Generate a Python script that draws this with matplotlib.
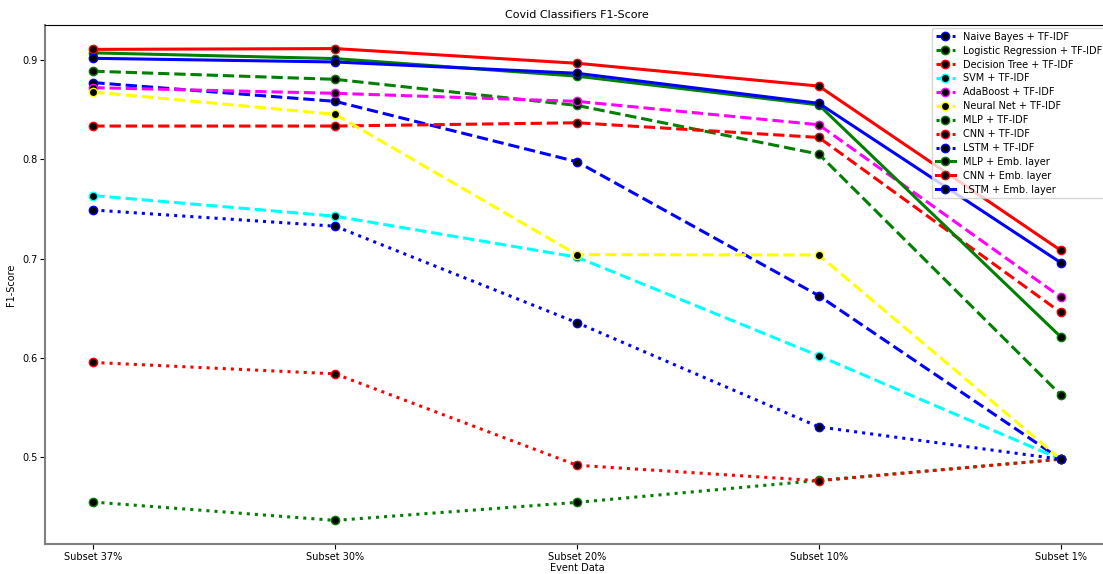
import matplotlib
matplotlib.use('Agg')
import matplotlib.pyplot as plt

subsets = ['Subset 37%', 'Subset 30%', 'Subset 20%', 'Subset 10%', 'Subset 1%']

nb_tfidf = [0.8775, 0.8586, 0.7977, 0.6626, 0.4977]
lr_tfidf = [0.889, 0.8808, 0.8545, 0.8054, 0.5626]
dt_tfidf = [0.8337, 0.8337, 0.837, 0.8222, 0.6458]
svm_tfidf = [0.7636, 0.7428, 0.7015, 0.602, 0.4977]
ada_tfidf = [0.8724, 0.8667, 0.8586, 0.835, 0.6613]
nn_tfidf = [0.868, 0.8455, 0.704, 0.7037, 0.4977]
mlp_tfidf = [0.4545, 0.436, 0.4542, 0.4763, 0.4977]
cnn_tfidf = [0.5953, 0.5838, 0.4916, 0.476, 0.4977]
lstm_tfidf = [0.749, 0.7327, 0.6354, 0.5303, 0.4977]
mlp_emb = [0.9075, 0.9017, 0.884, 0.855, 0.6212]
cnn_emb = [0.911, 0.9118, 0.897, 0.874, 0.7084]
lstm_emb = [0.902, 0.8983, 0.8869, 0.8566, 0.696]

series = [
    ('Naive Bayes + TF-IDF', nb_tfidf, 'blue', '--'),
    ('Logistic Regression + TF-IDF', lr_tfidf, 'green', '--'),
    ('Decision Tree + TF-IDF', dt_tfidf, 'red', '--'),
    ('SVM + TF-IDF', svm_tfidf, 'cyan', '--'),
    ('AdaBoost + TF-IDF', ada_tfidf, 'magenta', '--'),
    ('Neural Net + TF-IDF', nn_tfidf, 'yellow', '--'),
    ('MLP + TF-IDF', mlp_tfidf, 'green', ':'),
    ('CNN + TF-IDF', cnn_tfidf, 'red', ':'),
    ('LSTM + TF-IDF', lstm_tfidf, 'blue', ':'),
    ('MLP + Emb. layer', mlp_emb, 'green', '-'),
    ('CNN + Emb. layer', cnn_emb, 'red', '-'),
    ('LSTM + Emb. layer', lstm_emb, 'blue', '-'),
]

fig = plt.figure(figsize=(11.03, 5.74), dpi=100)
ax = fig.add_axes([45 / 1103, 30 / 574, 1064 / 1103, 519 / 574])

for label, values, color, style in series:
    ax.plot(subsets, values, color=color, linestyle=style, linewidth=2.2,
            marker='o', markersize=6, markerfacecolor='black',
            markeredgecolor=color, markeredgewidth=1, label=label)

ax.set_title('Covid Classifiers F1-Score', fontsize=8, pad=5)
ax.set_xlabel('Event Data', fontsize=7, labelpad=1)
ax.set_ylabel('F1-Score', fontsize=7)
ax.tick_params(labelsize=7, pad=2)
ax.set_yticks([0.5, 0.6, 0.7, 0.8, 0.9])

for side in ['left', 'bottom']:
    ax.spines[side].set_color('gray')
    ax.spines[side].set_linewidth(1.5)

ax.legend(loc='upper right', fontsize=7, borderaxespad=0.3, handlelength=2.0,
          labelspacing=0.4)

fig.savefig('out.png', dpi=100)
